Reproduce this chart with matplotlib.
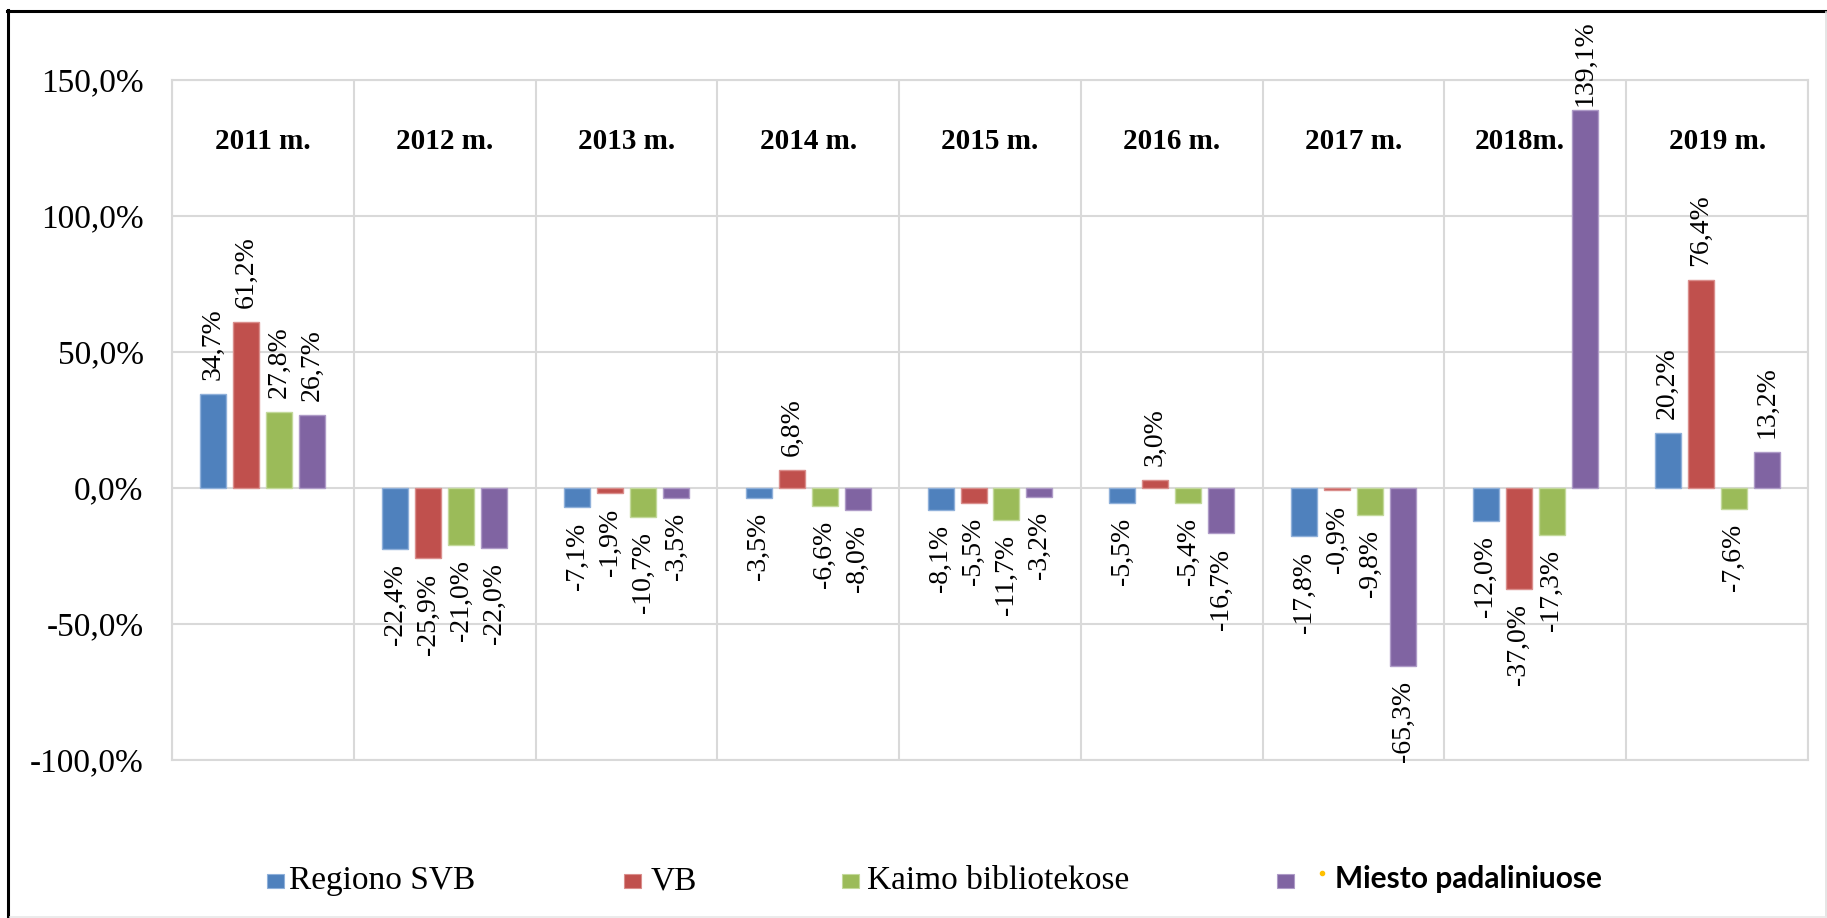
import matplotlib
matplotlib.use("Agg")
import matplotlib.pyplot as plt
from matplotlib.lines import Line2D
from matplotlib.patches import Rectangle
import numpy as np

categories = ["2011 m.", "2012 m.", "2013 m.", "2014 m.", "2015 m.",
              "2016 m.", "2017 m.", "2018m.", "2019 m."]
series_names = ["Regiono SVB", "VB", "Kaimo bibliotekose", "Miesto padaliniuose"]
regiono_svb = [34.7, -22.4, -7.1, -3.5, -8.1, -5.5, -17.8, -12.0, 20.2]
vb = [61.2, -25.9, -1.9, 6.8, -5.5, 3.0, -0.9, -37.0, 76.4]
kaimo = [27.8, -21.0, -10.7, -6.6, -11.7, -5.4, -9.8, -17.3, -7.6]
miesto = [26.7, -22.0, -3.5, -8.0, -3.2, -16.7, -65.3, 139.1, 13.2]
yticks = [-100, -50, 0, 50, 100, 150]

colors = ["#4F81BD", "#C0504D", "#9BBB59", "#8064A2"]
edge_colors = ["#8FB0DA", "#DA8E8C", "#C3D99B", "#AE9BC7"]

plt.rcParams["font.family"] = ["Liberation Serif", "DejaVu Serif"]

W, H = 1827, 918
DPI = 100
fig = plt.figure(figsize=(W / DPI, H / DPI), dpi=DPI)
fig.patch.set_facecolor("white")

def fx(px):
    return px / W

def fy(py):
    return 1 - py / H

ax = fig.add_axes([fx(172), fy(760), fx(1808) - fx(172), fy(80) - fy(760)])

serif = ["Liberation Serif", "DejaVu Serif"]
series = [regiono_svb, vb, kaimo, miesto]
x = np.arange(len(categories))
pitch = 0.1815
width = 0.143
for k, vals in enumerate(series):
    off = (k - 1.5) * pitch
    ax.bar(x + off, vals, width=width, color=colors[k],
           edgecolor=edge_colors[k], linewidth=1.0, zorder=3)
    for xi, v in zip(x + off, vals):
        lab = f"{v:.1f}".replace(".", ",") + "%"
        if v >= 0:
            gap = 2.5 if v > 120 else 10
            ax.annotate(lab, (xi, v), xytext=(0, gap), textcoords="offset points",
                        rotation=90, ha="center", va="bottom",
                        fontsize=20, family=serif, zorder=4,
                        annotation_clip=False)
        else:
            ax.annotate(lab, (xi, v), xytext=(0, -11), textcoords="offset points",
                        rotation=90, ha="center", va="top",
                        fontsize=20, family=serif, zorder=4,
                        annotation_clip=False)

ax.set_xlim(-0.5, len(categories) - 0.5)
ax.set_ylim(-100, 150)
ax.set_yticks(yticks)
ax.set_yticklabels([f"{t:.1f}".replace(".", ",") + "%" for t in yticks],
                   fontsize=24, family=serif)
ax.tick_params(axis="y", length=0, pad=20.5)
ax.set_xticks([])
ax.set_xticks(np.arange(len(categories) + 1) - 0.5, minor=True)
ax.tick_params(axis="x", which="both", length=0)
ax.grid(axis="y", which="major", color="#D9D9D9", linewidth=1.5, zorder=0)
ax.grid(axis="x", which="minor", color="#D9D9D9", linewidth=1.5, zorder=0)
for s in ax.spines.values():
    s.set_color("#D9D9D9")
    s.set_linewidth(1.5)

for i, c in enumerate(categories):
    shift = -0.085 if c == "2018m." else 0.0
    ax.text(i + shift, 127.5, c, ha="center", va="center", fontsize=21,
            fontweight="bold", family=serif, zorder=5)

# legend (drawn manually to match the original spacing)
sq_x = [267, 624, 842, 1277]
txt_x = [289, 651, 867, 1335]
for k in range(4):
    fig.patches.append(Rectangle((fx(sq_x[k]), fy(888)), fx(17), 14 / H,
                                 transform=fig.transFigure,
                                 facecolor=colors[k], edgecolor=edge_colors[k],
                                 linewidth=0.8))
    if k < 3:
        fig.text(fx(txt_x[k]), fy(881), series_names[k], fontsize=24,
                 family=serif, ha="left", va="center")
    else:
        fig.text(fx(txt_x[k]), fy(879), series_names[k], fontsize=21.5,
                 family=["Lato", "DejaVu Sans"], fontweight="bold",
                 ha="left", va="center")
fig.lines.append(Line2D([fx(1322)], [fy(873)], transform=fig.transFigure,
                        marker="o", markersize=3, color="#FFC000",
                        linestyle="none"))

# outer frame
fig.lines.append(Line2D([fx(7), fx(1827)], [fy(11), fy(11)],
                        transform=fig.transFigure, color="black", linewidth=2.2))
fig.lines.append(Line2D([fx(8), fx(8)], [fy(10), fy(918)],
                        transform=fig.transFigure, color="black", linewidth=2.2))
fig.lines.append(Line2D([fx(1826), fx(1826)], [fy(12), fy(917)],
                        transform=fig.transFigure, color="#E0E0E0", linewidth=1.2))
fig.lines.append(Line2D([fx(10), fx(1826)], [fy(917), fy(917)],
                        transform=fig.transFigure, color="#E8E8E8", linewidth=1.2))

fig.savefig("out.png", dpi=DPI, facecolor="white")
